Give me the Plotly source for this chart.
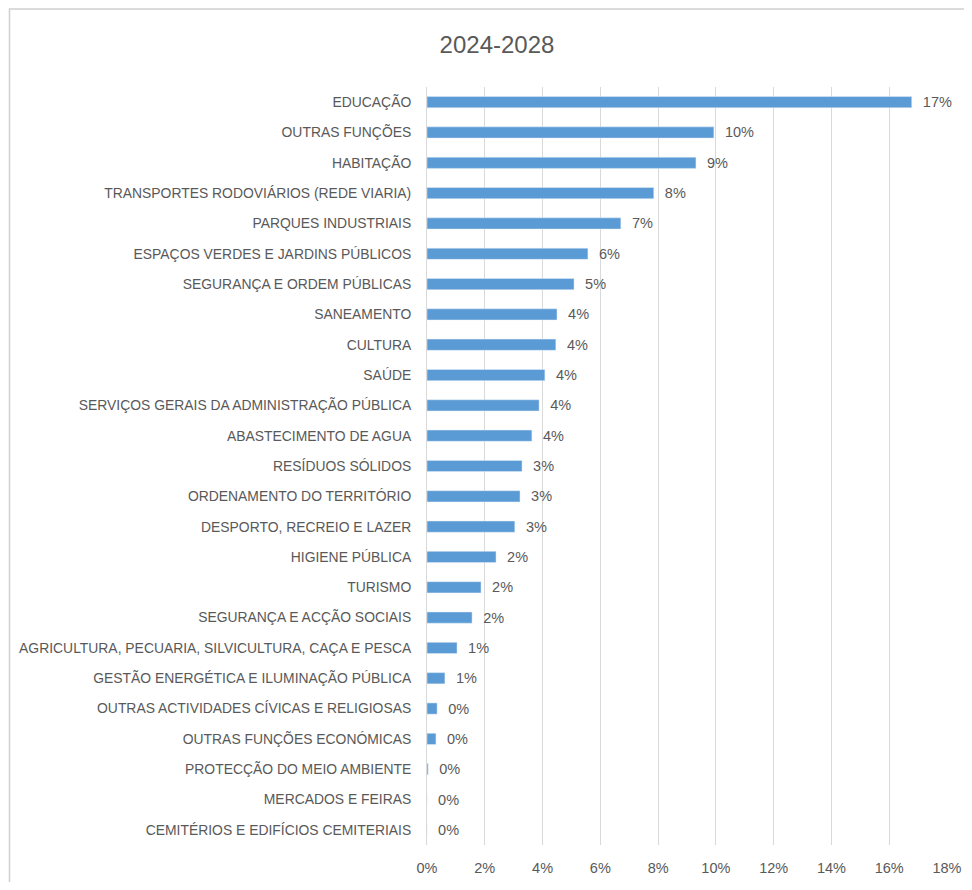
import plotly.graph_objects as go

categories = [
    "EDUCAÇÃO", "OUTRAS FUNÇÕES", "HABITAÇÃO", "TRANSPORTES RODOVIÁRIOS (REDE VIARIA)",
    "PARQUES INDUSTRIAIS", "ESPAÇOS VERDES E JARDINS PÚBLICOS", "SEGURANÇA E ORDEM PÚBLICAS",
    "SANEAMENTO", "CULTURA", "SAÚDE", "SERVIÇOS GERAIS DA ADMINISTRAÇÃO PÚBLICA",
    "ABASTECIMENTO DE AGUA", "RESÍDUOS SÓLIDOS", "ORDENAMENTO DO TERRITÓRIO",
    "DESPORTO, RECREIO E LAZER", "HIGIENE PÚBLICA", "TURISMO", "SEGURANÇA E ACÇÃO SOCIAIS",
    "AGRICULTURA, PECUARIA, SILVICULTURA, CAÇA E PESCA", "GESTÃO ENERGÉTICA E ILUMINAÇÃO PÚBLICA",
    "OUTRAS ACTIVIDADES CÍVICAS E RELIGIOSAS", "OUTRAS FUNÇÕES ECONÓMICAS",
    "PROTECÇÃO DO MEIO AMBIENTE", "MERCADOS E FEIRAS", "CEMITÉRIOS E EDIFÍCIOS CEMITERIAIS",
]
shares = [
    16.78, 9.93, 9.31, 7.85, 6.71, 5.57, 5.09, 4.50, 4.46, 4.08, 3.88, 3.63, 3.29,
    3.22, 3.04, 2.39, 1.87, 1.56, 1.04, 0.62, 0.35, 0.31, 0.04, 0.0, 0.0,
]
x_ticks = [0, 2, 4, 6, 8, 10, 12, 14, 16, 18]

FONT = "Liberation Sans, Arial, sans-serif"
GREY = "#595959"

# page has an 8px body margin, so the figure is sized to fit inside it
W, H = 956, 874
L, R, T, B = 419, 17, 79, 37
PW, PH = W - L - R, H - T - B

fig = go.Figure(go.Bar(
    x=shares,
    y=categories,
    orientation="h",
    width=0.37,
    marker=dict(color="#5B9BD5"),
    text=[f"  {round(v):.0f}%" for v in shares],
    textposition="outside",
    constraintext="none",
    textfont=dict(size=14.5, color=GREY, family=FONT),
    cliponaxis=False,
))

def px_x(px):
    return (px - L) / PW

def px_y(py):
    return (H - B - py) / PH

fig.update_layout(
    width=W, height=H,
    paper_bgcolor="white", plot_bgcolor="white",
    margin=dict(l=L, r=R, t=T, b=B, autoexpand=False),
    font=dict(family=FONT, color=GREY, size=14),
    title=dict(text="2024-2028", x=489 / W, xref="container", xanchor="center",
               y=1 - 37 / H, yanchor="middle",
               font=dict(size=24, color=GREY, family=FONT)),
    showlegend=False,
    xaxis=dict(range=[0, 18], tickmode="array", tickvals=x_ticks,
               ticktext=[f"{v}%" for v in x_ticks],
               showgrid=True, gridcolor="#d9d9d9", gridwidth=1,
               zeroline=False, showline=False, ticklabelstandoff=12,
               automargin=False,
               tickfont=dict(size=14.5, color=GREY, family=FONT)),
    yaxis=dict(autorange="reversed", showgrid=False, zeroline=False,
               showline=True, linecolor="#d9d9d9", linewidth=1,
               ticklabelstandoff=12, automargin=False,
               tickfont=dict(size=13.9, color=GREY, family=FONT)),
    shapes=[
        dict(type="rect", xref="paper", yref="paper",
             x0=px_x(1.5), x1=px_x(W + 20), y0=px_y(H + 20), y1=px_y(1),
             line=dict(color="#d0d0d0", width=1.5), layer="below"),
    ],
)

fig.write_html("out.html")
